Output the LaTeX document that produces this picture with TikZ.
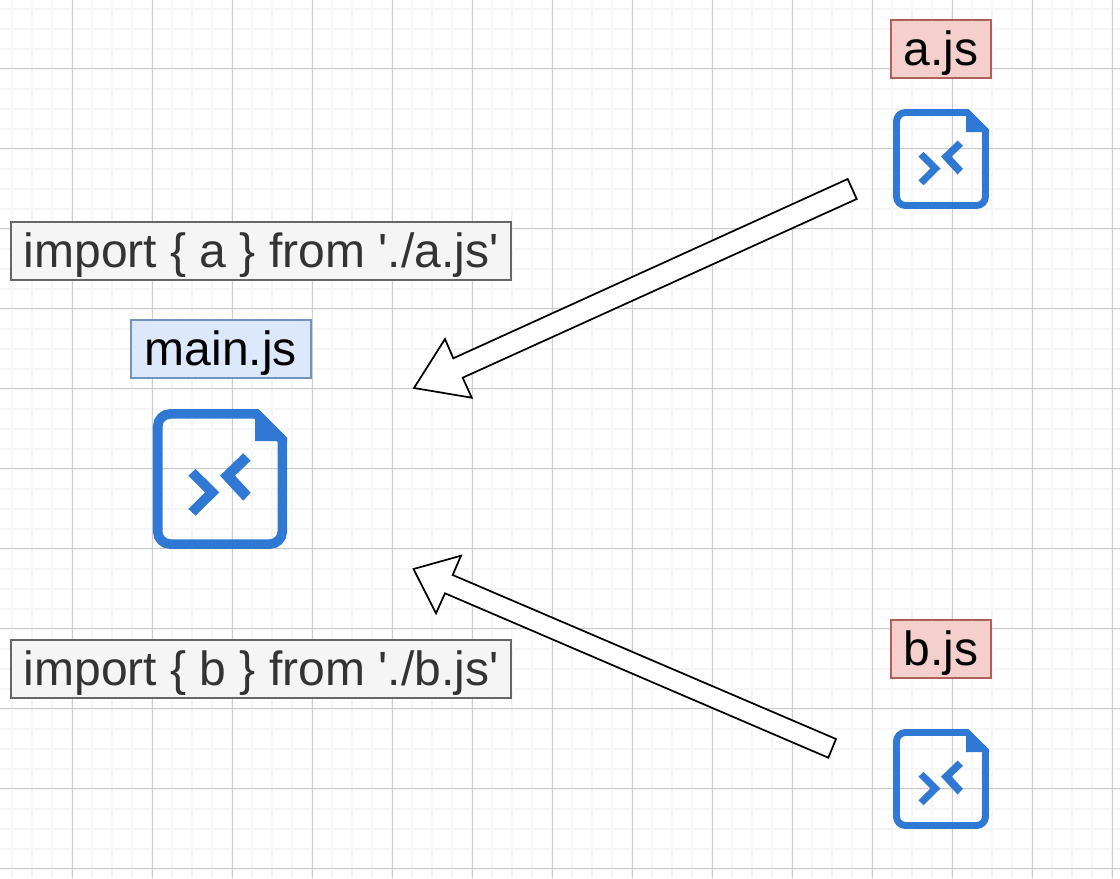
\documentclass[tikz,border=0pt]{standalone}
\usepackage{fontspec}
\setmainfont{Liberation Sans}
\newfontfamily\labelfont{Liberation Sans}
\definecolor{iconblue}{HTML}{2F78D4}
\definecolor{gridminor}{HTML}{F5F5F5}
\definecolor{gridmajor}{HTML}{CCCCCC}
\definecolor{redfill}{HTML}{F4CFCC}
\definecolor{redline}{HTML}{B0605A}
\definecolor{bluefill}{HTML}{DCE8FB}
\definecolor{blueline}{HTML}{7393BF}
\definecolor{greyfill}{HTML}{F5F5F5}
\definecolor{greyline}{HTML}{666666}
\definecolor{greytext}{HTML}{333333}
\tikzset{
  x=0.75pt,y=-0.75pt,
  label box/.style={draw,line width=1.5pt,inner sep=0pt,anchor=center,font=\labelfont\fontsize{36}{36}\selectfont,text height=32pt,text depth=8pt,minimum height=43.5pt},
  red label/.style={label box,fill=redfill,draw=redline,minimum width=74.5pt},
  blue label/.style={label box,fill=bluefill,draw=blueline,minimum width=134.5pt},
  grey label/.style={label box,fill=greyfill,draw=greyline,text=greytext,minimum width=374.5pt},
  fat arrow/.style={draw=black,fill=white,line width=1.3pt,line join=miter},
  file icon/.pic={
    \draw[iconblue,line join=miter,pic actions]
      (-44.5,-37.5) arc[start angle=180,end angle=270,radius=9] -- (26,-46.5) -- (44.5,-28) -- (44.5,37.5) arc[start angle=0,end angle=90,radius=9] -- (-35.5,46.5) arc[start angle=90,end angle=180,radius=9] -- cycle;
    \fill[iconblue] (25,-49) -- (28,-49) -- (48,-29) -- (48,-27) -- (25,-27) -- cycle;
    \fill[iconblue] (-22.6,-2.4) -- (-17.4,-7.1) -- (-0.5,9.5) -- (-17.4,26.2) -- (-22.6,21.4) -- (-10.7,9.5) -- cycle;
    \fill[iconblue] (0,-2.4) -- (16.6,-18.4) -- (21.9,-13.1) -- (10.7,-2.4) -- (21.9,9.8) -- (16.6,15.5) -- cycle;
  }
}
\begin{document}
\begin{tikzpicture}
\useasboundingbox (0,0) rectangle (1120,878);
\fill[white] (0,0) rectangle (1120,878);
\foreach \i in {0,...,55} \draw[gridminor,line width=1.5pt] ({12+20*\i},0) -- ({12+20*\i},878);
\foreach \i in {0,...,43} \draw[gridminor,line width=1.5pt] (0,{8.5+20*\i}) -- (1120,{8.5+20*\i});
\foreach \i in {0,...,13} \draw[gridmajor,line width=0.75pt] ({72+80*\i},0) -- ({72+80*\i},878);
\foreach \i in {0,...,10} \draw[gridmajor,line width=0.75pt] (0,{68.5+80*\i}) -- (1120,{68.5+80*\i});

\node[red label] (ajs) at (941,49) {a.js};
\node[red label] (bjs) at (941,649) {b.js};
\node[blue label] (mainjs) at (221,349) {main.js};
\node[grey label] (impa) at (261,251) {import \{ a \} from './a.js'};
\node[grey label] (impb) at (261,669) {import \{ b \} from './b.js'};

\coordinate (ica) at (941,159);
\coordinate (icb) at (941,779);
\coordinate (icm) at (220,479);
\pic[line width=5.2pt] at (ica) {file icon};
\pic[line width=5.2pt] at (icb) {file icon};
\pic[scale=1.4,line width=7.2pt] at (icm) {file icon};

\coordinate (tipa) at (414,388);
\coordinate (tipb) at (413.5,569);
\draw[fat arrow] (tipa) -- (445,339) -- (453.3,358.3) -- (847.7,179) -- (856.7,199) -- (462.7,377.7) -- (471.7,397.7) -- cycle;
\draw[fat arrow] (tipb) -- (461,555.7) -- (452.7,575) -- (836,739) -- (828.3,757.7) -- (445,593.3) -- (436,613.3) -- cycle;
\end{tikzpicture}
\end{document}
